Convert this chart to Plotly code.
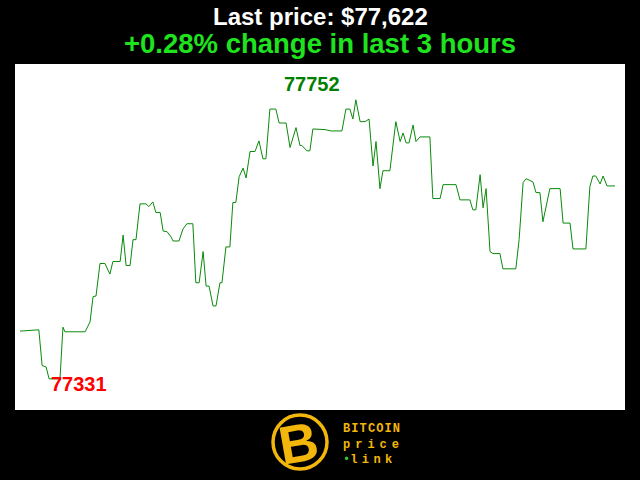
import plotly.graph_objects as go

# ---- data (minutes since start, BTC price in USD) ----
minutes = [0, 5.7, 6.7, 7.9, 8.8, 12.1, 13.0, 13.6, 19.7, 21.2,
           22.1, 23.0, 24.2, 25.7, 27.2, 28.1, 30.3, 31.2, 32.1, 33.3,
           34.2, 35.1, 36.3, 38.1, 39.0, 40.2, 41.1, 42.4, 43.3, 44.5,
           45.7, 46.3, 48.1, 49.3, 50.5, 52.3, 53.2, 54.2, 55.4, 56.3,
           57.2, 58.4, 59.3, 60.5, 61.1, 62.3, 63.5, 64.4, 65.3, 66.3,
           67.5, 68.4, 69.6, 71.1, 72.3, 73.5, 74.4, 75.6, 77.4, 78.4,
           80.5, 81.7, 83.5, 84.7, 85.3, 86.8, 87.7, 88.6, 92.3, 94.1,
           97.4, 98.6, 99.8, 100.7, 101.6, 102.9, 104.4, 105.6, 106.8, 107.7,
           108.9, 109.8, 111.9, 113.7, 115.0, 115.9, 116.8, 117.7, 118.9, 119.8,
           121.0, 124.0, 124.9, 127.1, 128.0, 131.9, 133.1, 136.1, 137.0, 137.9,
           139.2, 140.1, 141.0, 142.2, 143.1, 145.2, 146.1, 150.0, 151.0, 152.2,
           153.1, 155.2, 156.1, 157.3, 158.2, 160.3, 163.4, 164.3, 166.4, 167.3,
           171.2, 172.4, 173.3, 174.2, 175.5, 176.4, 177.6, 180.0]
prices = [77403, 77405, 77351, 77349, 77331, 77331, 77409, 77402, 77402, 77417,
          77455, 77456, 77505, 77505, 77489, 77508, 77508, 77548, 77502, 77502,
          77541, 77541, 77595, 77595, 77591, 77598, 77582, 77582, 77554, 77553,
          77545, 77539, 77539, 77557, 77565, 77565, 77476, 77476, 77523, 77471,
          77471, 77441, 77441, 77476, 77476, 77530, 77530, 77597, 77597, 77636,
          77649, 77634, 77674, 77674, 77690, 77663, 77663, 77738, 77738, 77717,
          77717, 77680, 77710, 77683, 77683, 77675, 77675, 77708, 77707, 77705,
          77705, 77738, 77738, 77723, 77752, 77719, 77719, 77723, 77652, 77689,
          77618, 77645, 77645, 77719, 77689, 77702, 77687, 77687, 77714, 77689,
          77696, 77696, 77603, 77603, 77624, 77624, 77601, 77601, 77586, 77586,
          77639, 77589, 77618, 77523, 77520, 77520, 77497, 77497, 77541, 77627,
          77633, 77628, 77612, 77612, 77568, 77618, 77618, 77566, 77566, 77527,
          77527, 77621, 77637, 77637, 77625, 77637, 77622, 77622]

title_line1 = "Last price: $77,622"
title_line2 = "+0.28% change in last 3 hours"
logo_lines = ["BITCOIN", "price", "link"]

W, H = 640, 480
ML, MR, MT, MB = 15, 15, 64, 70
PW, PH = W - ML - MR, H - MT - MB


def px(x):
    return (x - ML) / PW


def py(y):
    return (H - MB - y) / PH


GOLD = "#f2b70a"

fig = go.Figure()
fig.add_trace(go.Scatter(x=minutes, y=prices, mode="lines",
                         line=dict(color="#0a8a0a", width=1), hoverinfo="skip"))

imax = prices.index(max(prices))
imin = prices.index(min(prices))


def ptext(x, y, text, font, xanchor="center", **kw):
    d = dict(x=px(x), y=py(y), xref="paper", yref="paper", text=text,
             showarrow=False, xanchor=xanchor, yanchor="middle", font=font)
    d.update(kw)
    return d


logo_text = (
    '<b><span style="letter-spacing:1.1px">%s</span></b><br>'
    '<b><span style="letter-spacing:5px">%s</span></b><br>'
    '<span style="color:#2ecc2e">\u2022</span>'
    '<b><span style="letter-spacing:4.4px">%s</span></b>'
) % tuple(logo_lines)

annotations = [
    dict(x=minutes[imax], y=prices[imax], xref="x", yref="y", text="<b>%d</b>" % prices[imax],
         showarrow=False, xshift=-44, yshift=16, xanchor="center", yanchor="middle",
         font=dict(family="Liberation Sans", size=20, color="#008000")),
    dict(x=minutes[imin], y=prices[imin], xref="x", yref="y", text="<b>%d</b>" % prices[imin],
         showarrow=False, xshift=30, yshift=-5, xanchor="center", yanchor="middle",
         font=dict(family="Liberation Sans", size=20, color="#ff0000")),
    ptext(320, 16, "<b>%s</b>" % title_line1,
          dict(family="Liberation Sans", size=24, color="white")),
    ptext(320, 43, "<b>%s</b>" % title_line2,
          dict(family="Liberation Sans", size=27.5, color="#1fe31f")),
    # logo
    ptext(298, 443, "<b>B</b>", dict(family="Liberation Sans", size=54, color=GOLD),
          textangle=-10),
    ptext(341, 444, logo_text,
          dict(family="Liberation Mono", size=12, color=GOLD), xanchor="left", align="left"),
]

shapes = [
    dict(type="circle", xref="paper", yref="paper",
         x0=px(300 - 27), x1=px(300 + 27), y0=py(442 + 27), y1=py(442 - 27),
         line=dict(color=GOLD, width=3.5), fillcolor="black", layer="above"),
]

fig.update_layout(
    width=W, height=H, autosize=False,
    margin=dict(l=ML, r=MR, t=MT, b=MB, pad=0),
    paper_bgcolor="black", plot_bgcolor="white",
    showlegend=False,
    xaxis=dict(range=[-1.51, 183.03], visible=False, fixedrange=True),
    yaxis=dict(range=[77284, 77806], visible=False, fixedrange=True),
    annotations=annotations, shapes=shapes,
)

fig.write_html("out.html", config={"displayModeBar": False},
               post_script="document.body.style.margin='0';document.body.style.padding='0';"
                           "document.body.style.background='black';")
